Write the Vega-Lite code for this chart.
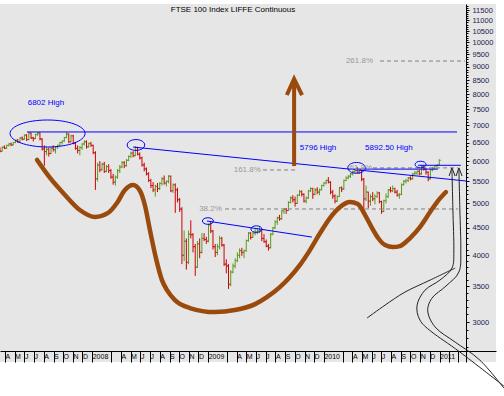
{
"$schema": "https://vega.github.io/schema/vega-lite/v6.json",
"width": 496, "height": 358,
"autosize": {"type": "none"},
"padding": {"left": 0, "top": 4, "right": 8, "bottom": 34},
"background": "white",
"config": {"view": {"fill": "#e6e6e6", "stroke": null}, "font": "Liberation Sans"},
"title": {"text": "FTSE 100 Index LIFFE Continuous", "fontSize": 8, "fontWeight": "normal", "color": "#000000", "offset": -10, "dx": -15, "anchor": "middle", "font": "Liberation Sans"},
"datasets": {
"bars": [
{"d":"2007-03-16","o":6330,"h":6360,"l":6230,"c":6260},
{"d":"2007-03-23","o":6260,"h":6390,"l":6250,"c":6370},
{"d":"2007-03-30","o":6370,"h":6420,"l":6320,"c":6340},
{"d":"2007-04-06","o":6340,"h":6440,"l":6330,"c":6420},
{"d":"2007-04-13","o":6420,"h":6480,"l":6390,"c":6460},
{"d":"2007-04-20","o":6460,"h":6500,"l":6400,"c":6430},
{"d":"2007-04-27","o":6430,"h":6520,"l":6420,"c":6500},
{"d":"2007-05-04","o":6500,"h":6580,"l":6480,"c":6560},
{"d":"2007-05-11","o":6560,"h":6600,"l":6490,"c":6520},
{"d":"2007-05-18","o":6520,"h":6650,"l":6510,"c":6630},
{"d":"2007-05-25","o":6630,"h":6670,"l":6560,"c":6590},
{"d":"2007-06-01","o":6590,"h":6730,"l":6580,"c":6710},
{"d":"2007-06-08","o":6710,"h":6740,"l":6540,"c":6580},
{"d":"2007-06-15","o":6580,"h":6800,"l":6570,"c":6770},
{"d":"2007-06-22","o":6770,"h":6790,"l":6600,"c":6630},
{"d":"2007-06-29","o":6630,"h":6660,"l":6530,"c":6610},
{"d":"2007-07-06","o":6610,"h":6750,"l":6600,"c":6730},
{"d":"2007-07-13","o":6730,"h":6800,"l":6690,"c":6770},
{"d":"2007-07-20","o":6770,"h":6790,"l":6560,"c":6600},
{"d":"2007-07-27","o":6600,"h":6620,"l":6280,"c":6320},
{"d":"2007-08-03","o":6320,"h":6420,"l":5880,"c":6250},
{"d":"2007-08-10","o":6250,"h":6380,"l":6150,"c":6310},
{"d":"2007-08-17","o":6310,"h":6360,"l":6120,"c":6200},
{"d":"2007-08-24","o":6200,"h":6380,"l":6180,"c":6340},
{"d":"2007-08-31","o":6340,"h":6420,"l":6250,"c":6300},
{"d":"2007-09-07","o":6300,"h":6400,"l":6200,"c":6380},
{"d":"2007-09-14","o":6380,"h":6440,"l":6320,"c":6420},
{"d":"2007-09-21","o":6420,"h":6520,"l":6400,"c":6500},
{"d":"2007-09-28","o":6500,"h":6560,"l":6440,"c":6540},
{"d":"2007-10-05","o":6540,"h":6660,"l":6520,"c":6640},
{"d":"2007-10-12","o":6640,"h":6800,"l":6620,"c":6740},
{"d":"2007-10-19","o":6740,"h":6760,"l":6480,"c":6520},
{"d":"2007-10-26","o":6520,"h":6720,"l":6500,"c":6690},
{"d":"2007-11-02","o":6690,"h":6720,"l":6450,"c":6480},
{"d":"2007-11-09","o":6480,"h":6520,"l":6300,"c":6340},
{"d":"2007-11-16","o":6340,"h":6420,"l":6200,"c":6280},
{"d":"2007-11-23","o":6280,"h":6400,"l":6150,"c":6360},
{"d":"2007-11-30","o":6360,"h":6480,"l":6300,"c":6460},
{"d":"2007-12-07","o":6460,"h":6560,"l":6420,"c":6520},
{"d":"2007-12-14","o":6520,"h":6560,"l":6330,"c":6380},
{"d":"2007-12-21","o":6380,"h":6500,"l":6360,"c":6470},
{"d":"2007-12-28","o":6470,"h":6520,"l":6380,"c":6420},
{"d":"2008-01-04","o":6420,"h":6440,"l":6180,"c":6220},
{"d":"2008-01-11","o":6220,"h":6260,"l":5300,"c":5560},
{"d":"2008-01-18","o":5560,"h":5960,"l":5500,"c":5900},
{"d":"2008-01-25","o":5900,"h":6000,"l":5720,"c":5780},
{"d":"2008-02-01","o":5780,"h":5960,"l":5760,"c":5920},
{"d":"2008-02-08","o":5920,"h":5980,"l":5700,"c":5740},
{"d":"2008-02-15","o":5740,"h":5900,"l":5720,"c":5860},
{"d":"2008-02-22","o":5860,"h":5920,"l":5700,"c":5760},
{"d":"2008-02-29","o":5760,"h":5800,"l":5560,"c":5600},
{"d":"2008-03-07","o":5600,"h":5680,"l":5420,"c":5480},
{"d":"2008-03-14","o":5480,"h":5640,"l":5400,"c":5600},
{"d":"2008-03-21","o":5600,"h":5800,"l":5560,"c":5760},
{"d":"2008-03-28","o":5760,"h":5900,"l":5700,"c":5850},
{"d":"2008-04-04","o":5850,"h":6000,"l":5820,"c":5960},
{"d":"2008-04-11","o":5960,"h":6000,"l":5820,"c":5880},
{"d":"2008-04-18","o":5880,"h":6050,"l":5860,"c":6020},
{"d":"2008-04-25","o":6020,"h":6150,"l":6000,"c":6120},
{"d":"2008-05-02","o":6120,"h":6250,"l":6080,"c":6210},
{"d":"2008-05-09","o":6210,"h":6260,"l":6100,"c":6140},
{"d":"2008-05-16","o":6140,"h":6400,"l":6130,"c":6360},
{"d":"2008-05-23","o":6360,"h":6380,"l":6150,"c":6180},
{"d":"2008-05-30","o":6180,"h":6230,"l":6040,"c":6080},
{"d":"2008-06-06","o":6080,"h":6120,"l":5860,"c":5900},
{"d":"2008-06-13","o":5900,"h":5960,"l":5740,"c":5800},
{"d":"2008-06-20","o":5800,"h":5840,"l":5640,"c":5680},
{"d":"2008-06-27","o":5680,"h":5720,"l":5480,"c":5520},
{"d":"2008-07-04","o":5520,"h":5560,"l":5340,"c":5400},
{"d":"2008-07-11","o":5400,"h":5480,"l":5250,"c":5300},
{"d":"2008-07-18","o":5300,"h":5420,"l":5150,"c":5380},
{"d":"2008-07-25","o":5380,"h":5460,"l":5250,"c":5330},
{"d":"2008-08-01","o":5330,"h":5480,"l":5300,"c":5450},
{"d":"2008-08-08","o":5450,"h":5600,"l":5400,"c":5560},
{"d":"2008-08-15","o":5560,"h":5640,"l":5420,"c":5460},
{"d":"2008-08-22","o":5460,"h":5520,"l":5380,"c":5500},
{"d":"2008-08-29","o":5500,"h":5650,"l":5450,"c":5620},
{"d":"2008-09-05","o":5620,"h":5640,"l":5250,"c":5280},
{"d":"2008-09-12","o":5280,"h":5450,"l":5230,"c":5420},
{"d":"2008-09-19","o":5420,"h":5450,"l":4800,"c":5300},
{"d":"2008-09-26","o":5300,"h":5350,"l":5020,"c":5080},
{"d":"2008-10-03","o":5080,"h":5120,"l":4820,"c":4880},
{"d":"2008-10-10","o":4880,"h":4920,"l":3850,"c":4000},
{"d":"2008-10-17","o":4000,"h":4450,"l":3900,"c":4250},
{"d":"2008-10-24","o":4250,"h":4300,"l":3760,"c":3880},
{"d":"2008-10-31","o":3880,"h":4450,"l":3850,"c":4380},
{"d":"2008-11-07","o":4380,"h":4650,"l":4300,"c":4370},
{"d":"2008-11-14","o":4370,"h":4400,"l":4050,"c":4150},
{"d":"2008-11-21","o":4150,"h":4200,"l":3660,"c":3800},
{"d":"2008-11-28","o":3800,"h":4250,"l":3790,"c":4200},
{"d":"2008-12-05","o":4200,"h":4300,"l":3950,"c":4050},
{"d":"2008-12-12","o":4050,"h":4400,"l":4030,"c":4300},
{"d":"2008-12-19","o":4300,"h":4400,"l":4250,"c":4280},
{"d":"2008-12-26","o":4280,"h":4330,"l":4200,"c":4250},
{"d":"2009-01-02","o":4250,"h":4580,"l":4230,"c":4560},
{"d":"2009-01-09","o":4560,"h":4630,"l":4400,"c":4440},
{"d":"2009-01-16","o":4440,"h":4460,"l":4100,"c":4150},
{"d":"2009-01-23","o":4150,"h":4200,"l":3970,"c":4050},
{"d":"2009-01-30","o":4050,"h":4200,"l":4000,"c":4150},
{"d":"2009-02-06","o":4150,"h":4350,"l":4100,"c":4300},
{"d":"2009-02-13","o":4300,"h":4330,"l":4150,"c":4180},
{"d":"2009-02-20","o":4180,"h":4200,"l":3820,"c":3850},
{"d":"2009-02-27","o":3850,"h":3930,"l":3700,"c":3820},
{"d":"2009-03-06","o":3820,"h":3850,"l":3460,"c":3530},
{"d":"2009-03-13","o":3530,"h":3750,"l":3500,"c":3720},
{"d":"2009-03-20","o":3720,"h":3860,"l":3700,"c":3820},
{"d":"2009-03-27","o":3820,"h":3950,"l":3780,"c":3910},
{"d":"2009-04-03","o":3910,"h":4050,"l":3880,"c":4000},
{"d":"2009-04-10","o":4000,"h":4120,"l":3950,"c":4080},
{"d":"2009-04-17","o":4080,"h":4130,"l":3990,"c":4050},
{"d":"2009-04-24","o":4050,"h":4100,"l":3950,"c":4080},
{"d":"2009-05-01","o":4080,"h":4280,"l":4060,"c":4260},
{"d":"2009-05-08","o":4260,"h":4420,"l":4240,"c":4400},
{"d":"2009-05-15","o":4400,"h":4420,"l":4280,"c":4320},
{"d":"2009-05-22","o":4320,"h":4420,"l":4310,"c":4400},
{"d":"2009-05-29","o":4400,"h":4480,"l":4360,"c":4420},
{"d":"2009-06-05","o":4420,"h":4500,"l":4380,"c":4440},
{"d":"2009-06-12","o":4440,"h":4520,"l":4400,"c":4450},
{"d":"2009-06-19","o":4450,"h":4460,"l":4250,"c":4300},
{"d":"2009-06-26","o":4300,"h":4380,"l":4220,"c":4240},
{"d":"2009-07-03","o":4240,"h":4280,"l":4140,"c":4160},
{"d":"2009-07-10","o":4160,"h":4200,"l":4080,"c":4130},
{"d":"2009-07-17","o":4130,"h":4400,"l":4120,"c":4380},
{"d":"2009-07-24","o":4380,"h":4520,"l":4360,"c":4500},
{"d":"2009-07-31","o":4500,"h":4650,"l":4480,"c":4620},
{"d":"2009-08-07","o":4620,"h":4720,"l":4560,"c":4700},
{"d":"2009-08-14","o":4700,"h":4760,"l":4640,"c":4680},
{"d":"2009-08-21","o":4680,"h":4860,"l":4660,"c":4840},
{"d":"2009-08-28","o":4840,"h":4900,"l":4780,"c":4880},
{"d":"2009-09-04","o":4880,"h":4900,"l":4780,"c":4850},
{"d":"2009-09-11","o":4850,"h":5050,"l":4840,"c":5020},
{"d":"2009-09-18","o":5020,"h":5150,"l":5000,"c":5120},
{"d":"2009-09-25","o":5120,"h":5180,"l":5020,"c":5080},
{"d":"2009-10-02","o":5080,"h":5150,"l":4930,"c":5000},
{"d":"2009-10-09","o":5000,"h":5200,"l":4990,"c":5180},
{"d":"2009-10-16","o":5180,"h":5300,"l":5160,"c":5260},
{"d":"2009-10-23","o":5260,"h":5290,"l":5150,"c":5200},
{"d":"2009-10-30","o":5200,"h":5220,"l":5020,"c":5050},
{"d":"2009-11-06","o":5050,"h":5150,"l":5000,"c":5120},
{"d":"2009-11-13","o":5120,"h":5300,"l":5100,"c":5280},
{"d":"2009-11-20","o":5280,"h":5360,"l":5250,"c":5330},
{"d":"2009-11-27","o":5330,"h":5350,"l":5100,"c":5200},
{"d":"2009-12-04","o":5200,"h":5340,"l":5180,"c":5300},
{"d":"2009-12-11","o":5300,"h":5360,"l":5200,"c":5250},
{"d":"2009-12-18","o":5250,"h":5330,"l":5180,"c":5300},
{"d":"2009-12-25","o":5300,"h":5420,"l":5290,"c":5400},
{"d":"2010-01-01","o":5400,"h":5480,"l":5380,"c":5460},
{"d":"2010-01-08","o":5460,"h":5540,"l":5430,"c":5520},
{"d":"2010-01-15","o":5520,"h":5600,"l":5450,"c":5480},
{"d":"2010-01-22","o":5480,"h":5500,"l":5200,"c":5250},
{"d":"2010-01-29","o":5250,"h":5300,"l":5100,"c":5160},
{"d":"2010-02-05","o":5160,"h":5200,"l":5000,"c":5050},
{"d":"2010-02-12","o":5050,"h":5180,"l":5030,"c":5150},
{"d":"2010-02-19","o":5150,"h":5370,"l":5140,"c":5350},
{"d":"2010-02-26","o":5350,"h":5380,"l":5250,"c":5320},
{"d":"2010-03-05","o":5320,"h":5540,"l":5300,"c":5520},
{"d":"2010-03-12","o":5520,"h":5620,"l":5500,"c":5580},
{"d":"2010-03-19","o":5580,"h":5650,"l":5550,"c":5620},
{"d":"2010-03-26","o":5620,"h":5700,"l":5580,"c":5680},
{"d":"2010-04-02","o":5680,"h":5760,"l":5640,"c":5730},
{"d":"2010-04-09","o":5730,"h":5800,"l":5700,"c":5770},
{"d":"2010-04-16","o":5770,"h":5850,"l":5700,"c":5720},
{"d":"2010-04-23","o":5720,"h":5800,"l":5680,"c":5760},
{"d":"2010-04-30","o":5760,"h":5790,"l":5500,"c":5550},
{"d":"2010-05-07","o":5550,"h":5580,"l":4850,"c":5100},
{"d":"2010-05-14","o":5100,"h":5400,"l":5050,"c":5250},
{"d":"2010-05-21","o":5250,"h":5260,"l":4900,"c":5050},
{"d":"2010-05-28","o":5050,"h":5200,"l":4950,"c":5150},
{"d":"2010-06-04","o":5150,"h":5250,"l":5050,"c":5100},
{"d":"2010-06-11","o":5100,"h":5200,"l":4980,"c":5150},
{"d":"2010-06-18","o":5150,"h":5270,"l":5120,"c":5230},
{"d":"2010-06-25","o":5230,"h":5250,"l":5000,"c":5040},
{"d":"2010-07-02","o":5040,"h":5060,"l":4780,"c":4830},
{"d":"2010-07-09","o":4830,"h":5080,"l":4820,"c":5060},
{"d":"2010-07-16","o":5060,"h":5220,"l":5000,"c":5150},
{"d":"2010-07-23","o":5150,"h":5320,"l":5120,"c":5300},
{"d":"2010-07-30","o":5300,"h":5370,"l":5240,"c":5280},
{"d":"2010-08-06","o":5280,"h":5400,"l":5250,"c":5330},
{"d":"2010-08-13","o":5330,"h":5350,"l":5220,"c":5250},
{"d":"2010-08-20","o":5250,"h":5300,"l":5150,"c":5180},
{"d":"2010-08-27","o":5180,"h":5230,"l":5100,"c":5200},
{"d":"2010-09-03","o":5200,"h":5450,"l":5180,"c":5420},
{"d":"2010-09-10","o":5420,"h":5530,"l":5400,"c":5500},
{"d":"2010-09-17","o":5500,"h":5560,"l":5450,"c":5520},
{"d":"2010-09-24","o":5520,"h":5600,"l":5480,"c":5580},
{"d":"2010-10-01","o":5580,"h":5620,"l":5520,"c":5560},
{"d":"2010-10-08","o":5560,"h":5700,"l":5540,"c":5680},
{"d":"2010-10-15","o":5680,"h":5750,"l":5650,"c":5700},
{"d":"2010-10-22","o":5700,"h":5760,"l":5650,"c":5740},
{"d":"2010-10-29","o":5740,"h":5780,"l":5640,"c":5680},
{"d":"2010-11-05","o":5680,"h":5900,"l":5660,"c":5860},
{"d":"2010-11-12","o":5860,"h":5890,"l":5760,"c":5800},
{"d":"2010-11-19","o":5800,"h":5830,"l":5660,"c":5720},
{"d":"2010-11-26","o":5720,"h":5740,"l":5500,"c":5560},
{"d":"2010-12-03","o":5560,"h":5800,"l":5540,"c":5780},
{"d":"2010-12-10","o":5780,"h":5850,"l":5740,"c":5820},
{"d":"2010-12-17","o":5820,"h":5900,"l":5780,"c":5880},
{"d":"2010-12-24","o":5880,"h":5920,"l":5850,"c":5900},
{"d":"2010-12-31","o":5900,"h":6050,"l":5880,"c":6020}
],
"brown": [
{"d":"2007-07-11","v":6029},{"d":"2007-08-21","v":5579},{"d":"2007-10-07","v":5185},{"d":"2007-11-23","v":4860},
{"d":"2008-01-10","v":4716},{"d":"2008-02-20","v":4799},{"d":"2008-03-19","v":5008},{"d":"2008-04-13","v":5298},
{"d":"2008-05-09","v":5413},{"d":"2008-05-31","v":5275},{"d":"2008-06-15","v":4966},{"d":"2008-07-01","v":4459},
{"d":"2008-07-20","v":3951},{"d":"2008-08-08","v":3594},{"d":"2008-08-24","v":3442},{"d":"2008-09-18","v":3298},
{"d":"2008-11-04","v":3187},{"d":"2009-01-22","v":3132},{"d":"2009-03-26","v":3159},{"d":"2009-05-29","v":3241},
{"d":"2009-07-05","v":3340},{"d":"2009-08-15","v":3488},{"d":"2009-09-16","v":3643},{"d":"2009-10-17","v":3834},
{"d":"2009-11-18","v":4090},{"d":"2009-12-20","v":4401},{"d":"2010-01-20","v":4695},{"d":"2010-02-21","v":4923},
{"d":"2010-03-24","v":5030},{"d":"2010-04-18","v":4986},{"d":"2010-05-11","v":4756},{"d":"2010-06-02","v":4497},
{"d":"2010-06-21","v":4308},{"d":"2010-07-13","v":4179},{"d":"2010-08-07","v":4143},{"d":"2010-08-29","v":4162},
{"d":"2010-09-30","v":4308},{"d":"2010-10-31","v":4516},{"d":"2010-12-02","v":4817},{"d":"2010-12-24","v":5030},
{"d":"2011-01-21","v":5251}
],
"arrow": [
{"g":"s","k":1,"d":"2009-09-29","v":5873},{"g":"s","k":2,"d":"2009-09-29","v":8508},
{"g":"h","k":1,"d":"2009-09-06","v":7974},{"g":"h","k":2,"d":"2009-09-29","v":8543},{"g":"h","k":3,"d":"2009-10-24","v":7974}
],
"blue": [
{"g":"a","d":"2007-06-09","v":6802},{"g":"a","d":"2011-02-25","v":6802},
{"g":"b","d":"2008-05-09","v":6374},{"g":"b","d":"2011-03-28","v":5505},
{"g":"c","d":"2008-12-28","v":4635},{"g":"c","d":"2009-11-24","v":4326},
{"g":"e","d":"2010-03-24","v":5796},{"g":"e","d":"2010-12-27","v":5796},
{"g":"f","d":"2010-10-25","v":5892.5},{"g":"f","d":"2011-03-09","v":5892.5}
],
"dash": [
{"g":"a","d":"2010-06-27","v":9231},{"g":"a","d":"2011-03-22","v":9231},
{"g":"b","d":"2009-06-23","v":5775},{"g":"b","d":"2009-10-05","v":5775},
{"g":"c","d":"2010-06-05","v":5827},{"g":"c","d":"2011-02-28","v":5827},
{"g":"d","d":"2009-02-23","v":4882},{"g":"d","d":"2011-02-28","v":4882}
],
"ink": [
{"g":"a","k":1,"d":"2011-02-09","v":5775},{"g":"a","k":2,"d":"2011-02-12","v":4860},{"g":"a","k":3,"d":"2011-02-15","v":4090},
{"g":"a","k":4,"d":"2011-02-09","v":3785},{"g":"a","k":5,"d":"2011-01-02","v":3594},{"g":"a","k":6,"d":"2010-11-16","v":3442},
{"g":"a","k":7,"d":"2010-10-22","v":3227},{"g":"a","k":8,"d":"2010-10-31","v":3026},{"g":"a","k":9,"d":"2010-12-08","v":2873},
{"g":"a","k":10,"d":"2011-03-06","v":2637},{"g":"a","k":11,"d":"2011-07-23","v":2277},
{"g":"b","k":1,"d":"2011-03-03","v":5775},{"g":"b","k":2,"d":"2011-03-06","v":4860},{"g":"b","k":3,"d":"2011-03-09","v":4090},
{"g":"b","k":4,"d":"2011-03-03","v":3722},{"g":"b","k":5,"d":"2011-01-21","v":3503},{"g":"b","k":6,"d":"2010-12-08","v":3326},
{"g":"b","k":7,"d":"2010-11-25","v":3132},{"g":"b","k":8,"d":"2010-12-21","v":2923},{"g":"b","k":9,"d":"2011-02-19","v":2752},
{"g":"b","k":10,"d":"2011-05-08","v":2547},{"g":"b","k":11,"d":"2011-07-23","v":2258},
{"g":"c","k":1,"d":"2010-05-17","v":3052},{"g":"c","k":2,"d":"2010-07-13","v":3227},{"g":"c","k":3,"d":"2010-09-14","v":3414},
{"g":"c","k":4,"d":"2010-12-02","v":3594},{"g":"c","k":5,"d":"2011-02-19","v":3785}
],
"inkhead": [
{"g":"a","k":1,"d":"2011-01-31","v":5627},{"g":"a","k":2,"d":"2011-02-09","v":5827},{"g":"a","k":3,"d":"2011-02-19","v":5627},
{"g":"b","k":1,"d":"2011-02-22","v":5627},{"g":"b","k":2,"d":"2011-03-03","v":5827},{"g":"b","k":3,"d":"2011-03-13","v":5627}
],
"ellL": [{"d":"2007-08-13","v":6757}],
"ellM": [{"d":"2008-05-18","v":6431},{"d":"2010-04-14","v":5827}],
"ellS": [{"d":"2008-12-31","v":4635},{"d":"2009-06-02","v":4477},{"d":"2010-11-02","v":5912}],
"blueC": [{"t":"6802 High","d":"2007-08-08","v":7704}],
"blueL": [{"t":"5796 High","d":"2009-10-17","v":6348},{"t":"5892.50 High","d":"2010-05-11","v":6348}],
"grayR": [{"t":"261.8%","d":"2010-06-05","v":9231},{"t":"161.8%","d":"2009-06-16","v":5775},{"t":"38.2%","d":"2009-02-13","v":4882},{"t":"61.8%","d":"2010-06-02","v":5827}]
},
"encoding": {
"x": {"field": "d", "type": "temporal",
 "scale": {"type": "utc", "nice": false, "domain": [{"year":2007,"month":3,"date":16,"utc":true},{"year":2011,"month":6,"date":28,"utc":true}]},
 "axis": {"orient": "bottom", "offset": -11, "title": null, "grid": false,
  "values": [
   {"year":2007,"month":4,"date":1,"utc":true},{"year":2007,"month":5,"date":1,"utc":true},{"year":2007,"month":6,"date":1,"utc":true},
   {"year":2007,"month":7,"date":1,"utc":true},{"year":2007,"month":8,"date":1,"utc":true},{"year":2007,"month":9,"date":1,"utc":true},
   {"year":2007,"month":10,"date":1,"utc":true},{"year":2007,"month":11,"date":1,"utc":true},{"year":2007,"month":12,"date":1,"utc":true},
   {"year":2008,"month":1,"date":1,"utc":true},{"year":2008,"month":3,"date":1,"utc":true},{"year":2008,"month":4,"date":1,"utc":true},
   {"year":2008,"month":5,"date":1,"utc":true},{"year":2008,"month":6,"date":1,"utc":true},{"year":2008,"month":7,"date":1,"utc":true},
   {"year":2008,"month":8,"date":1,"utc":true},{"year":2008,"month":9,"date":1,"utc":true},{"year":2008,"month":10,"date":1,"utc":true},
   {"year":2008,"month":11,"date":1,"utc":true},{"year":2008,"month":12,"date":1,"utc":true},
   {"year":2009,"month":1,"date":1,"utc":true},{"year":2009,"month":3,"date":1,"utc":true},{"year":2009,"month":4,"date":1,"utc":true},
   {"year":2009,"month":5,"date":1,"utc":true},{"year":2009,"month":6,"date":1,"utc":true},{"year":2009,"month":7,"date":1,"utc":true},
   {"year":2009,"month":8,"date":1,"utc":true},{"year":2009,"month":9,"date":1,"utc":true},{"year":2009,"month":10,"date":1,"utc":true},
   {"year":2009,"month":11,"date":1,"utc":true},{"year":2009,"month":12,"date":1,"utc":true},
   {"year":2010,"month":1,"date":1,"utc":true},{"year":2010,"month":3,"date":1,"utc":true},{"year":2010,"month":4,"date":1,"utc":true},
   {"year":2010,"month":5,"date":1,"utc":true},{"year":2010,"month":6,"date":1,"utc":true},{"year":2010,"month":7,"date":1,"utc":true},
   {"year":2010,"month":8,"date":1,"utc":true},{"year":2010,"month":9,"date":1,"utc":true},{"year":2010,"month":10,"date":1,"utc":true},
   {"year":2010,"month":11,"date":1,"utc":true},{"year":2010,"month":12,"date":1,"utc":true},
   {"year":2011,"month":1,"date":1,"utc":true},{"year":2011,"month":2,"date":1,"utc":true},{"year":2011,"month":3,"date":1,"utc":true}
  ],
  "labelExpr": "utcmonth(datum.value) == 0 ? '' + utcyear(datum.value) : (utcmonth(datum.value) < 3 ? '' : substring('JFMAMJJASOND', utcmonth(datum.value), utcmonth(datum.value) + 1))",
  "tickSize": 11, "tickColor": "#000000", "domainColor": "#000000", "labelColor": "#000000",
  "labelAlign": "left", "labelBaseline": "middle", "labelPadding": -5.5, "labelDx": 1.5,
  "labelFontSize": 7, "labelFont": "Liberation Sans", "labelOverlap": false, "labelFlush": false}
}
},
"layer": [
{"data": {"name": "bars"}, "mark": {"type": "rule", "strokeWidth": 1},
 "encoding": {
  "y": {"field": "l", "type": "quantitative", "scale": {"type": "log", "domain": [2526, 11801], "nice": false},
   "axis": {"orient": "right", "offset": -30, "title": null, "grid": false, "values": [3000,3500,4000,4500,5000,5500,6000,6500,7000,7500,8000,8500,9000,9500,10000,10500,11000,11500],
    "format": "d", "labelFontSize": 7.5, "labelFont": "Liberation Sans", "labelColor": "#1a1a4d", "tickSize": 3, "tickColor": "#000000", "domainColor": "#000000", "labelPadding": 3, "labelOverlap": false, "labelBaseline": "middle"}},
  "y2": {"field": "h"},
  "color": {"condition": {"test": "datum.c >= datum.o", "value": "#5b9a1a"}, "value": "#cc0000"}}},
{"data": {"name": "bars"}, "mark": {"type": "tick", "orient": "horizontal", "size": 2, "thickness": 1, "xOffset": -1},
 "encoding": {
  "y": {"field": "o", "type": "quantitative", "scale": {"type": "log", "domain": [2526, 11801], "nice": false}, "axis": null},
  "color": {"condition": {"test": "datum.c >= datum.o", "value": "#5b9a1a"}, "value": "#cc0000"}}},
{"data": {"name": "bars"}, "mark": {"type": "tick", "orient": "horizontal", "size": 2, "thickness": 1, "xOffset": 1},
 "encoding": {
  "y": {"field": "c", "type": "quantitative", "scale": {"type": "log", "domain": [2526, 11801], "nice": false}, "axis": null},
  "color": {"condition": {"test": "datum.c >= datum.o", "value": "#5b9a1a"}, "value": "#cc0000"}}},
{"data": {"name": "dash"}, "mark": {"type": "line", "color": "#808080", "strokeWidth": 1, "strokeDash": [4, 3]},
 "encoding": {
  "y": {"field": "v", "type": "quantitative", "scale": {"type": "log", "domain": [2526, 11801], "nice": false}, "axis": null},
  "detail": {"field": "g"}}},
{"data": {"name": "blue"}, "mark": {"type": "line", "color": "#0000ff", "strokeWidth": 1},
 "encoding": {
  "y": {"field": "v", "type": "quantitative", "scale": {"type": "log", "domain": [2526, 11801], "nice": false}, "axis": null},
  "detail": {"field": "g"}}},
{"data": {"name": "ellL"}, "mark": {"type": "point", "shape": "M-1,0A1,0.36,0,1,1,1,0A1,0.36,0,1,1,-1,0Z", "size": 5625, "filled": false, "stroke": "#0000ff", "strokeWidth": 1, "opacity": 1},
 "encoding": {
  "y": {"field": "v", "type": "quantitative", "scale": {"type": "log", "domain": [2526, 11801], "nice": false}, "axis": null}}},
{"data": {"name": "ellM"}, "mark": {"type": "point", "shape": "M-1,0A1,0.62,0,1,1,1,0A1,0.62,0,1,1,-1,0Z", "size": 306, "filled": false, "stroke": "#0000ff", "strokeWidth": 1, "opacity": 1},
 "encoding": {
  "y": {"field": "v", "type": "quantitative", "scale": {"type": "log", "domain": [2526, 11801], "nice": false}, "axis": null}}},
{"data": {"name": "ellS"}, "mark": {"type": "point", "shape": "M-1,0A1,0.6,0,1,1,1,0A1,0.6,0,1,1,-1,0Z", "size": 121, "filled": false, "stroke": "#0000ff", "strokeWidth": 1, "opacity": 1},
 "encoding": {
  "y": {"field": "v", "type": "quantitative", "scale": {"type": "log", "domain": [2526, 11801], "nice": false}, "axis": null}}},
{"data": {"name": "brown"}, "mark": {"type": "line", "color": "#9b4a0e", "strokeWidth": 4.5, "interpolate": "monotone", "strokeCap": "round"},
 "encoding": {
  "y": {"field": "v", "type": "quantitative", "scale": {"type": "log", "domain": [2526, 11801], "nice": false},
   "axis": {"orient": "right", "offset": -30, "title": null, "grid": false, "labels": false, "domain": false, "tickSize": 2, "tickColor": "#000000",
    "values": [2700,2800,2900,3100,3200,3300,3400,3600,3700,3800,3900,4100,4200,4300,4400,4600,4700,4800,4900,5100,5200,5300,5400,5600,5700,5800,5900,6100,6200,6300,6400,6600,6700,6800,6900,7100,7200,7300,7400,7600,7700,7800,7900,8100,8200,8300,8400,8600,8700,8800,8900,9100,9200,9300,9400,9600,9700,9800,9900,10100,10200,10300,10400,10600,10700,10800,10900,11100,11200,11300,11400,11600,11700]}}}},
{"data": {"name": "arrow"}, "mark": {"type": "line", "color": "#9b4a0e", "strokeWidth": 4, "strokeJoin": "miter"},
 "encoding": {
  "y": {"field": "v", "type": "quantitative", "scale": {"type": "log", "domain": [2526, 11801], "nice": false}, "axis": null},
  "detail": {"field": "g"}, "order": {"field": "k"}}},
{"data": {"name": "ink"}, "mark": {"type": "line", "color": "#222222", "strokeWidth": 1, "interpolate": "cardinal"},
 "encoding": {
  "y": {"field": "v", "type": "quantitative", "scale": {"type": "log", "domain": [2526, 11801], "nice": false}, "axis": null},
  "detail": {"field": "g"}, "order": {"field": "k"}}},
{"data": {"name": "inkhead"}, "mark": {"type": "line", "color": "#222222", "strokeWidth": 1},
 "encoding": {
  "y": {"field": "v", "type": "quantitative", "scale": {"type": "log", "domain": [2526, 11801], "nice": false}, "axis": null},
  "detail": {"field": "g"}, "order": {"field": "k"}}},
{"data": {"name": "blueC"}, "mark": {"type": "text", "color": "#0000ff", "fontSize": 8, "font": "Liberation Sans", "align": "center", "baseline": "middle"},
 "encoding": {
  "y": {"field": "v", "type": "quantitative", "scale": {"type": "log", "domain": [2526, 11801], "nice": false}, "axis": null},
  "text": {"field": "t"}}},
{"data": {"name": "blueL"}, "mark": {"type": "text", "color": "#0000ff", "fontSize": 8, "font": "Liberation Sans", "align": "left", "baseline": "middle"},
 "encoding": {
  "y": {"field": "v", "type": "quantitative", "scale": {"type": "log", "domain": [2526, 11801], "nice": false}, "axis": null},
  "text": {"field": "t"}}},
{"data": {"name": "grayR"}, "mark": {"type": "text", "color": "#999999", "fontSize": 8, "font": "Liberation Sans", "align": "right", "baseline": "middle"},
 "encoding": {
  "y": {"field": "v", "type": "quantitative", "scale": {"type": "log", "domain": [2526, 11801], "nice": false}, "axis": null},
  "text": {"field": "t"}}}
],
"resolve": {"axis": {"y": "independent"}}
}
